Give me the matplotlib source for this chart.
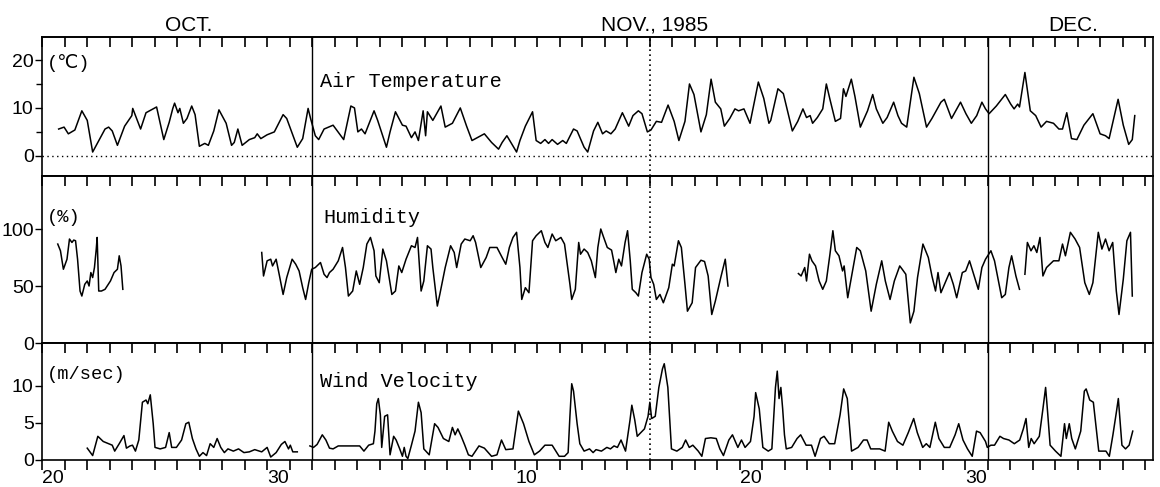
import numpy as np
import matplotlib
matplotlib.use("Agg")
import matplotlib.pyplot as plt

nan = np.nan

# ---------------- data (days since Oct 20, 1985 00:00) ----------------
temp_day = [0.74, 0.98, 1.17, 1.46, 1.77, 2.01, 2.25, 2.48, 2.80, 2.96, 3.12, 3.35, 3.67, 3.99, 4.03,
            4.38, 4.62, 5.02, 5.09, 5.41, 5.65, 5.81, 5.89, 6.04, 6.12, 6.28, 6.44, 6.65, 6.80, 6.99,
            7.23, 7.39, 7.63, 7.86, 8.18, 8.42, 8.54, 8.70, 8.89, 9.21, 9.45, 9.56, 9.72, 10.00, 10.32,
            10.71, 10.87, 11.34, 11.58, 11.82, 11.93, 12.14, 12.29, 12.53, 12.93, 13.40, 13.72, 13.88, 14.03, 14.19,
            14.35, 14.75, 14.91, 15.30, 15.46, 15.70, 16.01, 16.17, 16.41, 16.57, 16.72, 16.93, 17.04, 17.12, 17.36,
            17.72, 17.91, 18.23, 18.58, 18.86, 19.10, 19.41, 19.65, 19.97, 20.28, 20.44, 20.65, 21.08, 21.23, 21.47,
            21.79, 21.95, 22.15, 22.34, 22.50, 22.66, 22.90, 23.13, 23.29, 23.61, 23.77, 24.08, 24.24, 24.50,
            24.69, 24.90, 25.06, 25.27, 25.46, 25.78, 26.06, 26.25, 26.49, 26.65, 26.89, 27.05, 27.29, 27.52, 27.81,
            28.08, 28.29, 28.56, 28.76, 28.96, 29.27, 29.51, 29.72, 29.91, 30.15, 30.31, 30.55, 30.78, 30.94, 31.18,
            31.45, 31.82, 32.06, 32.29, 32.37, 32.69, 32.93, 33.33, 33.57, 33.80, 33.96, 34.12, 34.23, 34.44, 34.68,
            34.84, 35.00, 35.24, 35.47, 35.60, 35.71, 35.95, 36.11, 36.35, 36.67, 36.90, 37.06, 37.35, 37.54, 37.83,
            38.02, 38.18, 38.41, 38.73, 38.97, 39.29, 39.53, 39.93, 40.08, 40.40, 40.80, 41.04, 41.28, 41.52, 41.75,
            41.91, 42.07, 42.39, 42.79, 43.03, 43.18, 43.34, 43.42, 43.66, 43.90, 44.14, 44.38, 44.62, 44.93, 45.17,
            45.33, 45.52, 45.73, 45.97, 46.28, 46.68, 47.00, 47.24, 47.40, 47.80, 48.03, 48.27, 48.43, 48.54]
temp_val = [5.6, 6.0, 4.6, 5.4, 9.4, 7.4, 0.8, 2.8, 5.6, 6.0, 5.2, 2.2, 6.2, 8.4, 9.9,
            5.6, 9.0, 10.0, 10.2, 3.4, 7.0, 9.9, 11.0, 9.0, 9.9, 6.8, 7.8, 10.4, 8.6, 2.0,
            2.6, 2.2, 5.2, 9.6, 6.8, 2.2, 2.8, 5.6, 2.2, 3.4, 3.8, 4.6, 3.6, 4.4, 5.0,
            8.6, 7.8, 1.8, 3.6, 9.9, 7.8, 4.2, 3.4, 5.6, 6.4, 3.4, 10.4, 10.0, 5.0, 5.6,
            4.6, 9.4, 7.4, 1.8, 5.0, 9.2, 6.4, 6.2, 3.8, 5.0, 3.2, 9.4, 4.2, 9.2, 7.4,
            10.4, 6.0, 6.8, 10.0, 6.2, 3.2, 4.0, 4.6, 2.8, 1.4, 2.8, 4.2, 0.8, 3.2, 6.2,
            9.2, 3.2, 2.6, 3.4, 2.6, 3.4, 2.4, 3.2, 2.6, 5.6, 5.2, 1.8, 0.8, 5.2,
            7.0, 4.6, 5.2, 4.6, 5.6, 9.0, 6.2, 8.4, 9.4, 8.8, 5.0, 5.4, 7.2, 7.0, 10.6,
            7.2, 3.2, 7.2, 15.0, 12.8, 5.0, 8.6, 16.0, 11.2, 9.8, 6.2, 7.8, 9.8, 9.4, 9.8,
            6.8, 15.4, 12.0, 6.8, 7.4, 14.0, 13.0, 5.2, 7.2, 9.8, 8.0, 8.4, 6.8, 8.0, 9.8,
            15.0, 11.8, 7.2, 7.8, 14.0, 12.4, 16.0, 12.4, 6.0, 9.4, 12.8, 9.8, 6.8, 8.0, 11.2,
            8.4, 6.8, 6.0, 16.4, 13.0, 6.0, 7.8, 11.2, 11.8, 7.8, 11.2, 8.8, 6.8, 8.4, 11.2,
            9.8, 8.8, 10.4, 12.8, 10.8, 9.8, 10.8, 10.2, 17.4, 9.4, 8.4, 6.0, 7.2, 6.8, 5.6,
            5.6, 9.0, 3.6, 3.4, 6.4, 8.8, 4.6, 4.2, 3.6, 11.8, 6.4, 2.4, 3.4, 8.4]

hum_day = [0.70, 0.82, 0.95, 1.11, 1.22, 1.33, 1.41, 1.49, 1.58, 1.69, 1.77, 1.90, 2.01, 2.09, 2.17,
           2.25, 2.33, 2.41, 2.45, 2.52, 2.64, 2.80, 3.04, 3.20, 3.35, 3.43, 3.51, 3.59, 3.60,
           9.76, 9.84, 10.00, 10.16, 10.24, 10.40, 10.55, 10.71, 10.87, 11.11, 11.27, 11.42, 11.58, 11.71, 11.85,
           11.98, 12.14, 12.37, 12.53, 12.66, 12.77, 12.93, 13.16, 13.35, 13.48, 13.61, 13.80, 13.96, 14.11, 14.27,
           14.43, 14.59, 14.75, 14.83, 14.98, 15.14, 15.30, 15.54, 15.70, 15.85, 15.98, 16.17, 16.41, 16.57, 16.68,
           16.84, 16.96, 17.12, 17.28, 17.36, 17.56, 17.67, 17.91, 18.15, 18.31, 18.42, 18.62, 18.78, 19.02, 19.15,
           19.26, 19.49, 19.73, 19.89, 20.21, 20.44, 20.60, 20.76, 20.92, 21.08, 21.23, 21.31, 21.47, 21.63, 21.79,
           21.95, 22.18, 22.34, 22.47, 22.66, 22.82, 23.05, 23.21, 23.45, 23.53, 23.69, 23.84, 23.92, 24.08, 24.24,
           24.40, 24.58, 24.69, 24.82, 24.95, 25.11, 25.30, 25.38, 25.49, 25.62, 25.74, 25.90, 26.01, 26.13, 26.22,
           26.38, 26.49, 26.65, 26.86, 26.97, 27.05, 27.17, 27.29, 27.45, 27.60, 27.84, 28.00, 28.08, 28.27, 28.40,
           28.56, 28.67, 28.88, 29.03, 29.27, 29.43, 29.59, 29.75, 29.91, 30.15, 30.35, 30.47, 30.50,
           33.60, 33.72, 33.88, 33.96, 34.09, 34.20, 34.36, 34.52, 34.68, 34.84, 35.00, 35.13, 35.24, 35.40, 35.56,
           35.63, 35.79, 35.95, 36.19, 36.35, 36.59, 36.83, 37.06, 37.30, 37.46, 37.67, 37.86, 38.10, 38.21, 38.37,
           38.57, 38.73, 38.89, 39.13, 39.37, 39.53, 39.69, 39.80, 39.93, 40.15, 40.31, 40.48, 40.63, 40.88, 41.03,
           41.20, 41.36, 41.59, 41.75, 41.91, 42.15, 42.31, 42.63, 42.79, 42.95, 43.07, 43.26, 43.42, 43.50,
           43.66, 43.77, 43.93, 44.06, 44.19, 44.33, 44.46, 44.62, 44.93, 45.17, 45.33, 45.46, 45.68, 45.89, 46.09,
           46.32, 46.52, 46.68, 46.92, 47.08, 47.24, 47.40, 47.56, 47.72, 47.84, 48.03, 48.19, 48.35, 48.43]
hum_val = [86.8, 80.9, 64.7, 73.5, 91.2, 88.2, 90.3, 89.7, 73.5, 45.6, 41.2, 51.5, 54.4, 50.0, 61.8,
           57.4, 66.2, 82.4, 92.6, 45.6, 45.6, 47.1, 54.4, 61.8, 64.7, 76.5, 67.6, 47.1, nan,
           79.4, 58.8, 72.1, 73.5, 67.6, 73.5, 58.8, 42.6, 57.4, 73.5, 69.1, 63.2, 48.5, 38.2, 52.9,
           64.7, 66.2, 70.6, 60.3, 57.4, 61.8, 64.7, 72.1, 83.8, 66.2, 41.2, 45.6, 63.2, 51.5, 66.2,
           86.8, 92.6, 80.9, 58.8, 52.9, 82.4, 72.1, 42.6, 45.6, 67.6, 61.8, 73.5, 85.3, 83.8, 92.6,
           45.6, 54.4, 85.3, 82.4, 66.2, 32.4, 42.6, 66.2, 85.3, 79.4, 66.2, 86.8, 91.2, 89.7, 94.1,
           88.2, 66.2, 75.0, 83.8, 83.8, 75.0, 69.1, 83.8, 92.6, 97.1, 66.2, 38.2, 48.5, 44.1, 89.7,
           94.1, 98.5, 88.2, 83.8, 95.6, 89.7, 92.6, 86.8, 51.5, 38.2, 47.1, 88.2, 77.9, 82.4, 79.4,
           72.1, 57.4, 83.8, 100.0, 92.6, 83.8, 81.5, 73.5, 61.8, 73.5, 67.6, 88.2, 98.5, 72.1, 47.1,
           44.1, 41.2, 61.8, 77.9, 73.5, 57.4, 51.5, 38.2, 42.6, 35.3, 48.5, 69.1, 67.6, 89.7, 83.8,
           51.5, 27.9, 35.3, 66.2, 72.6, 71.5, 58.8, 25.0, 36.8, 57.4, 73.5, 50.0, nan,
           60.9, 58.8, 66.2, 54.4, 77.9, 72.1, 67.6, 54.4, 47.1, 54.4, 77.9, 98.5, 80.9, 76.5, 63.2,
           67.6, 39.7, 57.4, 83.8, 80.9, 63.2, 27.9, 51.5, 72.1, 54.4, 38.2, 54.4, 67.6, 64.7, 60.3,
           17.6, 27.9, 57.4, 86.8, 75.0, 58.8, 45.6, 61.8, 44.1, 54.4, 61.8, 51.5, 39.7, 61.8, 63.2,
           72.1, 61.8, 47.1, 66.2, 73.5, 80.9, 72.1, 39.7, 42.6, 66.2, 76.5, 58.8, 47.1, nan,
           60.3, 88.2, 80.9, 85.3, 79.4, 92.6, 58.8, 66.2, 72.1, 72.1, 86.8, 76.5, 97.1, 91.2, 83.8,
           52.9, 42.6, 52.9, 97.1, 82.4, 91.2, 80.9, 88.2, 45.6, 25.0, 55.9, 89.7, 97.1, 41.2]

wind_day = [2.01, 2.25, 2.48, 2.72, 2.96, 3.12, 3.23, 3.43, 3.64, 3.75, 3.91, 4.02, 4.15, 4.30, 4.46,
            4.62, 4.70, 4.81, 4.94, 5.02, 5.25, 5.49, 5.65, 5.76, 5.97, 6.20, 6.39, 6.52, 6.68, 6.84,
            6.99, 7.15, 7.31, 7.47, 7.63, 7.78, 7.94, 8.10, 8.26, 8.50, 8.73, 8.97, 9.21, 9.45, 9.76,
            10.00, 10.16, 10.40, 10.63, 10.79, 10.95, 11.03, 11.14, 11.34, 11.40,
            11.90, 12.06, 12.22, 12.45, 12.61, 12.77, 12.93, 13.16, 13.48, 13.88, 14.11, 14.30, 14.51, 14.72, 14.79,
            14.87, 14.94, 15.03, 15.09, 15.22, 15.35, 15.46, 15.62, 15.73, 15.89, 16.01, 16.09, 16.17, 16.25, 16.41,
            16.57, 16.72, 16.84, 16.96, 17.20, 17.44, 17.59, 17.83, 18.07, 18.23, 18.35, 18.47, 18.62, 18.78, 18.94,
            19.10, 19.41, 19.65, 19.97, 20.21, 20.41, 20.60, 20.92, 21.16, 21.39, 21.63, 21.87, 22.10, 22.34, 22.66,
            22.97, 23.21, 23.37, 23.45, 23.53, 23.61, 23.77, 23.89, 24.08, 24.32, 24.48,
            24.61, 24.85, 25.09, 25.25, 25.41, 25.56, 25.72, 25.92, 26.12, 26.20, 26.33, 26.44, 26.60, 26.76, 26.92,
            27.00, 27.08, 27.24, 27.40, 27.56, 27.64, 27.80, 27.96, 28.20, 28.44, 28.59, 28.75, 28.91, 29.15, 29.31,
            29.47, 29.71, 29.95, 30.11, 30.27, 30.51, 30.67, 30.91, 31.07, 31.23, 31.47, 31.63, 31.70, 31.86, 32.02,
            32.26, 32.42, 32.58, 32.66, 32.74, 32.82, 32.90, 32.98, 33.06, 33.30, 33.54, 33.70, 33.94, 34.18, 34.34,
            34.58, 34.74, 34.97, 35.21, 35.45, 35.61, 35.77, 35.96, 36.25, 36.49, 36.65, 36.81, 37.21, 37.45, 37.61,
            37.77, 38.00, 38.24, 38.48, 38.72, 38.88, 39.12, 39.28, 39.44, 39.68, 39.84, 40.08, 40.32, 40.56, 40.72,
            40.91, 41.11, 41.32, 41.51, 41.67, 41.91, 41.99, 42.15, 42.31, 42.55, 42.71, 42.95, 43.19, 43.43, 43.59,
            43.71, 43.83, 43.94, 44.07, 44.30, 44.46, 44.58, 44.67, 44.78, 45.02, 45.26, 45.42, 45.50, 45.63, 45.74,
            45.90, 46.14, 46.30, 46.38, 46.54, 46.70, 46.94, 47.26, 47.41, 47.57, 47.73, 47.81, 47.97, 48.13, 48.29,
            48.45]
wind_val = [1.6, 0.6, 3.2, 2.5, 2.2, 2.0, 1.2, 2.2, 3.3, 1.6, 1.9, 2.0, 1.2, 2.7, 7.8,
            8.1, 7.6, 8.8, 4.9, 1.7, 1.5, 1.7, 3.7, 1.7, 1.7, 2.7, 4.9, 5.1, 2.9, 1.5,
            0.5, 1.0, 0.6, 2.2, 1.7, 2.9, 1.7, 1.0, 1.5, 1.2, 1.5, 1.0, 1.1, 1.4, 1.1,
            1.7, 0.4, 1.0, 2.1, 2.5, 1.5, 2.0, 1.1, 1.1, nan,
            1.9, 1.7, 2.1, 3.4, 2.7, 1.6, 1.5, 1.9, 1.9, 1.9, 1.9, 1.2, 2.0, 2.2, 3.9,
            7.6, 8.3, 6.1, 1.7, 5.9, 6.1, 0.7, 3.2, 2.7, 1.5, 0.5, 1.7, 0.5, 0.2, 2.0,
            3.9, 7.8, 6.4, 1.5, 0.7, 4.9, 4.4, 2.9, 2.5, 4.4, 3.4, 4.2, 3.2, 2.0, 0.7,
            0.5, 1.9, 1.6, 0.5, 0.7, 2.7, 1.4, 1.5, 6.6, 4.9, 2.5, 0.7, 1.2, 2.0, 2.0,
            0.5, 0.5, 1.0, 5.9, 10.3, 9.3, 4.9, 2.2, 1.2, 1.5, 1.0,
            1.4, 1.2, 1.7, 1.5, 1.9, 1.7, 2.7, 1.2, 5.4, 7.4, 5.4, 3.2, 3.7, 4.2, 5.9,
            7.8, 5.6, 5.9, 9.8, 12.3, 13.0, 9.8, 1.5, 1.2, 1.7, 2.7, 1.7, 2.0, 1.2, 0.5,
            2.9, 3.0, 2.9, 1.5, 0.6, 2.7, 3.4, 1.7, 2.7, 1.7, 2.5, 5.9, 9.1, 6.9, 1.7,
            1.2, 1.5, 9.8, 12.0, 8.3, 9.8, 6.9, 3.4, 1.5, 1.7, 2.9, 3.4, 2.0, 2.0, 0.5,
            2.9, 3.2, 2.2, 2.2, 6.1, 9.6, 8.3, 1.2, 1.7, 2.7, 2.7, 1.5, 1.5, 1.2, 5.1,
            3.9, 2.5, 2.0, 3.7, 5.6, 3.7, 1.7, 2.2, 1.7, 5.1, 2.9, 1.7, 1.7, 3.4, 4.9,
            2.7, 1.5, 0.5, 3.9, 3.7, 2.5, 1.7, 2.0, 2.0, 3.2, 2.9, 2.7, 2.2, 2.7, 4.2,
            5.6, 1.7, 2.9, 2.2, 3.2, 6.9, 9.8, 6.4, 2.0, 1.2, 0.5, 4.9, 2.9, 4.9, 2.9,
            1.5, 3.9, 9.3, 9.6, 8.1, 7.8, 1.2, 1.2, 0.5, 3.4, 6.6, 8.3, 2.0, 1.5, 2.0,
            3.9]

day_label_pos = [0.5, 10.5, 21.5, 31.5, 41.5]
day_labels = ["20", "30", "10", "20", "30"]
month_pos = [6.5, 27.2, 45.8]
month_labels = ["OCT.", "NOV., 1985", "DEC."]
month_boundaries = [12, 42]   # Nov 1, Dec 1
dotted_day = 27               # Nov 16
n_days = 49.35

# ---------------- figure ----------------
W, H = 1160, 487
fig = plt.figure(figsize=(W / 100, H / 100), dpi=100)
SANS = ["Liberation Sans Narrow", "Liberation Sans", "DejaVu Sans"]
MONO = ["Liberation Mono", "DejaVu Sans Mono", "DejaVu Sans"]

L, R = 42, 1153
def box(top, bot):
    return [L / W, 1 - bot / H, (R - L) / W, (bot - top) / H]

ax_t = fig.add_axes(box(37, 176))
ax_h = fig.add_axes(box(176, 343))
ax_w = fig.add_axes(box(343, 460))
axes = [ax_t, ax_h, ax_w]

lw_data = 1.1
ax_t.plot(temp_day, temp_val, color="black", lw=lw_data)
ax_h.plot(hum_day, hum_val, color="black", lw=lw_data)
ax_w.plot(wind_day, wind_val, color="black", lw=lw_data)

ax_t.set_ylim(-4.2, 24.8)
ax_h.set_ylim(0, 146.5)
ax_w.set_ylim(0, 15.8)
ax_t.axhline(0, color="black", lw=1.0, ls=(0, (1, 2.5)))

yt = {ax_t: [0, 10, 20], ax_h: [0, 50, 100], ax_w: [0, 5, 10]}
for ax in axes:
    ax.set_xlim(0, n_days)
    for s in ax.spines.values():
        s.set_linewidth(1.2)
    for b in month_boundaries:
        ax.axvline(b, color="black", lw=1.0)
    ax.axvline(dotted_day, color="black", lw=1.2, ls=(0, (1, 2)))
    ax.set_yticks(yt[ax])
    ax.set_yticklabels([str(v) for v in yt[ax]], family=SANS, fontsize=14)
    ax.tick_params(axis="y", direction="out", length=5, width=1.0, pad=1, right=False)
    ax.set_xticks([])
    sec = ax.secondary_xaxis("top")
    sec.set_xticks(np.arange(0, 50))
    sec.tick_params(direction="in", length=7, width=1.2, labeltop=False)
    sec.spines["top"].set_linewidth(1.2)

ax_t.set_yticks([5, 15], minor=True)
ax_t.tick_params(axis="y", which="minor", direction="out", length=4, width=1.0)

# bottom axis: daily ticks pointing out, day labels at mid-day
ax_w.set_xticks(np.arange(0, 50))
ax_w.set_xticks(day_label_pos, minor=True)
ax_w.set_xticklabels([], minor=False)
ax_w.set_xticklabels(day_labels, minor=True, family=SANS, fontsize=14)
ax_w.tick_params(axis="x", which="major", direction="out", length=7, width=1.2, bottom=True, top=False)
ax_w.tick_params(axis="x", which="minor", length=0, pad=7, bottom=True, top=False)

# month labels
trans = ax_t.get_xaxis_transform()
for p, t in zip(month_pos, month_labels):
    ax_t.text(p, 1.045, t, transform=trans, ha="center", va="baseline",
              family=SANS, fontsize=15)

# panel labels
def lab(ax, x, y, s, fs=14.5):
    ax.text(x, y, s, transform=ax.transAxes, ha="left", va="center",
            family=MONO, fontsize=fs)

lab(ax_t, 0.004, 0.81, "(\u2103)", 13.5)
lab(ax_t, 0.250, 0.68, "Air Temperature")
lab(ax_h, 0.004, 0.75, "(%)", 13.5)
lab(ax_h, 0.253, 0.75, "Humidity")
lab(ax_w, 0.004, 0.735, "(m/sec)", 13.5)
lab(ax_w, 0.250, 0.675, "Wind Velocity")

fig.savefig("out.png", dpi=100)
